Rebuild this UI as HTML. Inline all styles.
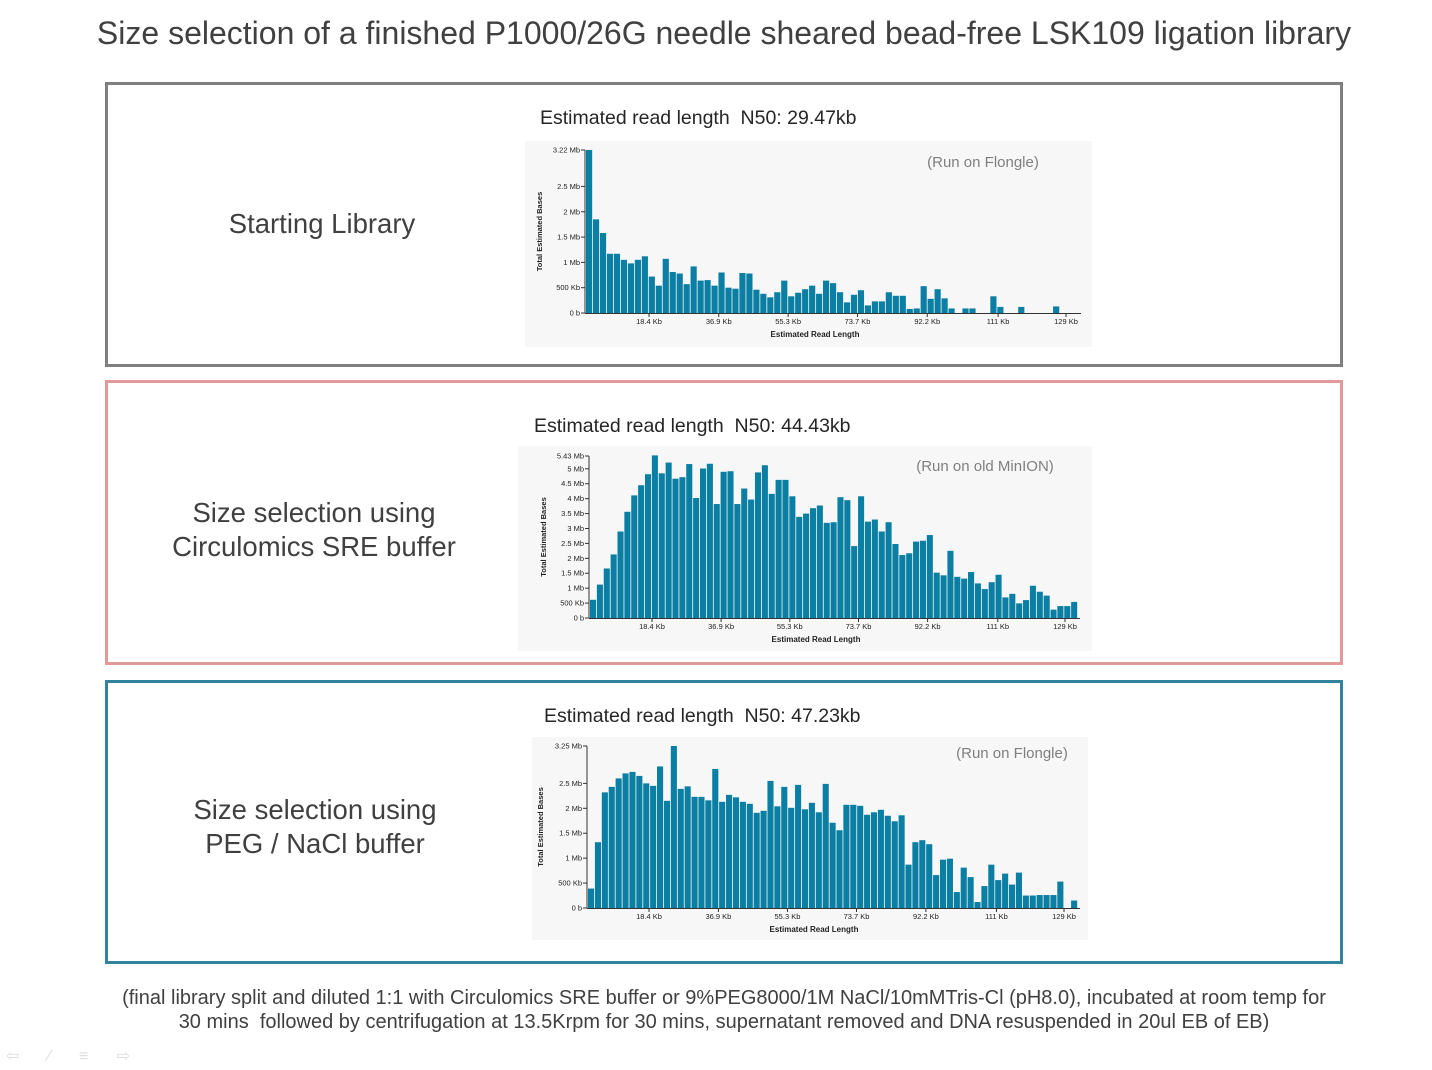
<!DOCTYPE html>
<html><head><meta charset="utf-8">
<style>
body{margin:0;width:1432px;height:1070px;background:#fff;font-family:"Liberation Sans",sans-serif;position:relative;overflow:hidden;color:#404040}
.abs{position:absolute}
.box{position:absolute;left:105px;width:1232px;box-sizing:content-box}
.lbl{position:absolute;width:420px;text-align:center;font-size:27.5px;line-height:34px;color:#404040}
.n50{position:absolute;font-size:19.5px;color:#262626}
svg text{font-family:"Liberation Sans",sans-serif}
</style></head>
<body>
<div class="abs" style="left:0;width:1448px;text-align:center;top:15px;font-size:32px;color:#404040">Size selection of a finished P1000/26G needle sheared bead-free LSK109 ligation library</div>

<div class="box" style="top:82px;height:279px;border:3px solid #7f7f7f"></div>
<div class="box" style="top:380px;height:279px;border:3px solid #e09a9a"></div>
<div class="box" style="top:680px;height:278px;border:3px solid #31849b"></div>

<div class="lbl" style="left:112px;top:207px">Starting Library</div>
<div class="lbl" style="left:104px;top:496px">Size selection using<br>Circulomics SRE buffer</div>
<div class="lbl" style="left:105px;top:793px">Size selection using<br>PEG / NaCl buffer</div>

<div class="n50" style="left:540px;top:107px">Estimated read length&nbsp; N50: 29.47kb</div>
<div class="n50" style="left:534px;top:415px">Estimated read length&nbsp; N50: 44.43kb</div>
<div class="n50" style="left:544px;top:705px">Estimated read length&nbsp; N50: 47.23kb</div>

<svg id="c1" class="abs" style="left:525px;top:141px" width="567" height="206"></svg>
<svg id="c2" class="abs" style="left:518px;top:446px" width="574" height="205"></svg>
<svg id="c3" class="abs" style="left:532px;top:737px" width="556" height="203"></svg>

<div class="abs" style="left:0;width:1448px;text-align:center;top:986px;font-size:20px;line-height:24px;color:#404040">(final library split and diluted 1:1 with Circulomics SRE buffer or 9%PEG8000/1M NaCl/10mMTris-Cl (pH8.0), incubated at room temp for<br>30 mins&nbsp; followed by centrifugation at 13.5Krpm for 30 mins, supernatant removed and DNA resuspended in 20ul EB of EB)</div>

<div class="abs" style="left:6px;top:1046px;font-size:16px;color:#ddd;letter-spacing:12px">⇦ ∕ ≡ ⇨</div>

<script>
const xTickVals = [18.4, 36.9, 55.3, 73.7, 92.2, 111, 129];
const xTickLabels = ["18.4 Kb","36.9 Kb","55.3 Kb","73.7 Kb","92.2 Kb","111 Kb","129 Kb"];
const starting = [3.22,1.85,1.58,1.17,1.17,1.05,0.98,1.05,1.12,0.72,0.54,1.07,0.81,0.78,0.57,0.92,0.64,0.65,0.54,0.80,0.50,0.48,0.79,0.78,0.46,0.38,0.31,0.41,0.64,0.33,0.40,0.47,0.54,0.38,0.64,0.59,0.41,0.21,0.36,0.45,0.15,0.23,0.23,0.41,0.34,0.34,0.08,0.09,0.53,0.28,0.47,0.29,0.09,0,0.09,0.09,0,0,0.33,0.12,0,0,0.12,0,0,0,0,0.13,0];
const sre = [0.61,1.12,1.66,2.13,2.90,3.56,4.11,4.45,4.82,5.45,4.85,5.21,4.67,4.72,5.16,4.02,5.01,5.17,3.82,4.90,4.92,3.82,4.34,3.97,4.88,5.12,4.16,4.63,4.63,4.08,3.39,3.50,3.68,3.77,3.19,3.21,4.05,3.95,2.41,4.08,3.23,3.30,2.90,3.21,2.48,2.11,2.17,2.56,2.59,2.78,1.52,1.43,2.25,1.38,1.32,1.54,1.16,0.97,1.20,1.45,0.69,0.81,0.49,0.60,1.08,0.88,0.75,0.28,0.40,0.40,0.54];
const peg = [0.39,1.32,2.32,2.43,2.60,2.70,2.73,2.65,2.50,2.45,2.84,2.15,3.25,2.39,2.44,2.23,2.23,2.16,2.79,2.13,2.27,2.22,2.13,2.09,1.91,1.95,2.55,2.04,2.43,2.01,2.47,1.98,2.11,1.92,2.49,1.71,1.56,2.07,2.07,2.05,1.87,1.92,1.97,1.85,1.74,1.86,0.87,1.32,1.36,1.28,0.66,0.97,0.99,0.32,0.81,0.62,0.12,0.44,0.87,0.56,0.69,0.47,0.71,0.25,0.25,0.26,0.26,0.26,0.53,0,0.15];
const yTicks1 = [0,0.5,1,1.5,2,2.5,3.22];
const yLabels1 = ["0 b","500 Kb","1 Mb","1.5 Mb","2 Mb","2.5 Mb","3.22 Mb"];
const yTicks2 = [0,0.5,1,1.5,2,2.5,3,3.5,4,4.5,5,5.43];
const yLabels2 = ["0 b","500 Kb","1 Mb","1.5 Mb","2 Mb","2.5 Mb","3 Mb","3.5 Mb","4 Mb","4.5 Mb","5 Mb","5.43 Mb"];
const yTicks3 = [0,0.5,1,1.5,2,2.5,3.25];
const yLabels3 = ["0 b","500 Kb","1 Mb","1.5 Mb","2 Mb","2.5 Mb","3.25 Mb"];

const NS="http://www.w3.org/2000/svg";
function mk(svg,tag,attrs){const e=document.createElementNS(NS,tag);for(const k in attrs)e.setAttribute(k,attrs[k]);svg.appendChild(e);return e;}

function drawChart(id,vals,yT,yL,cfg,note){
  const svg=document.getElementById(id);
  const W=+svg.getAttribute('width'),H=+svg.getAttribute('height');
  const bg=mk(svg,'rect',{x:0,y:0,width:W,height:H,fill:'#f7f7f7'});
  
  
  const ymax=yT[yT.length-1];
  const y=v=>cfg.y0-(v/ymax)*(cfg.y0-cfg.yTop);
  const x=kb=>cfg.x18+(kb-18.4)*(cfg.x129-cfg.x18)/(129-18.4);
  const band=(cfg.xEnd-cfg.xStart)/vals.length;
  vals.forEach((v,i)=>{
    const r=mk(svg,'rect',{x:cfg.xStart+i*band,y:y(v),width:band-0.8,height:cfg.y0-y(v),fill:'#0a7fa3'});
    
    
  });
  mk(svg,'line',{x1:cfg.xStart-1,x2:cfg.xStart-1,y1:cfg.yTop,y2:cfg.y0,stroke:'#333','stroke-width':1});
  mk(svg,'line',{x1:cfg.xStart-1,x2:cfg.axisEnd,y1:cfg.y0+0.5,y2:cfg.y0+0.5,stroke:'#333','stroke-width':1});
  yT.forEach((t,i)=>{
    mk(svg,'line',{x1:cfg.xStart-5,x2:cfg.xStart-1,y1:y(t),y2:y(t),stroke:'#333'});
    const tx=mk(svg,'text',{x:cfg.xStart-6,y:y(t)+2.5,'font-size':7.5,'text-anchor':'end',fill:'#222'});
    tx.textContent=yL[i];
    
    
  });
  xTickVals.forEach((t,i)=>{
    const px=x(t);
    mk(svg,'line',{x1:px,x2:px,y1:cfg.y0,y2:cfg.y0+4,stroke:'#333'});
    const tx=mk(svg,'text',{x:px,y:cfg.y0+11,'font-size':7.5,'text-anchor':'middle',fill:'#222'});
    tx.textContent=xTickLabels[i];
    
    
  });
  const xt=mk(svg,'text',{x:cfg.titleX,y:cfg.y0+24,'font-size':8,'font-weight':'bold','text-anchor':'middle',fill:'#222'});
  xt.textContent='Estimated Read Length';
  
  
  const cy=(cfg.y0+cfg.yTop)/2;
  const yt=mk(svg,'text',{x:cfg.yTitleX,y:cy,'font-size':7.5,'font-weight':'bold','text-anchor':'middle',fill:'#222',transform:`rotate(-90 ${cfg.yTitleX} ${cy})`});
  yt.textContent='Total Estimated Bases';
  
  
  const nt=mk(svg,'text',{x:cfg.noteX,y:cfg.noteY,'font-size':15,'text-anchor':'middle',fill:'#7f7f7f'});
  nt.textContent=note;
  
  
}
drawChart('c1',starting,yTicks1,yLabels1,{xStart:61,xEnd:542,axisEnd:556,y0:172,yTop:9,x18:124,x129:541,yTitleX:17,noteX:458,noteY:26,titleX:290},'(Run  on  Flongle)');
drawChart('c2',sre,yTicks2,yLabels2,{xStart:72,xEnd:560,axisEnd:562,y0:172,yTop:10,x18:134,x129:547,yTitleX:28,noteX:467,noteY:25,titleX:298},'(Run  on  old  MinION)');
drawChart('c3',peg,yTicks3,yLabels3,{xStart:56,xEnd:546,axisEnd:548,y0:171,yTop:9,x18:117,x129:532,yTitleX:11,noteX:480,noteY:21,titleX:282},'(Run  on  Flongle)');
</script>
</body></html>
